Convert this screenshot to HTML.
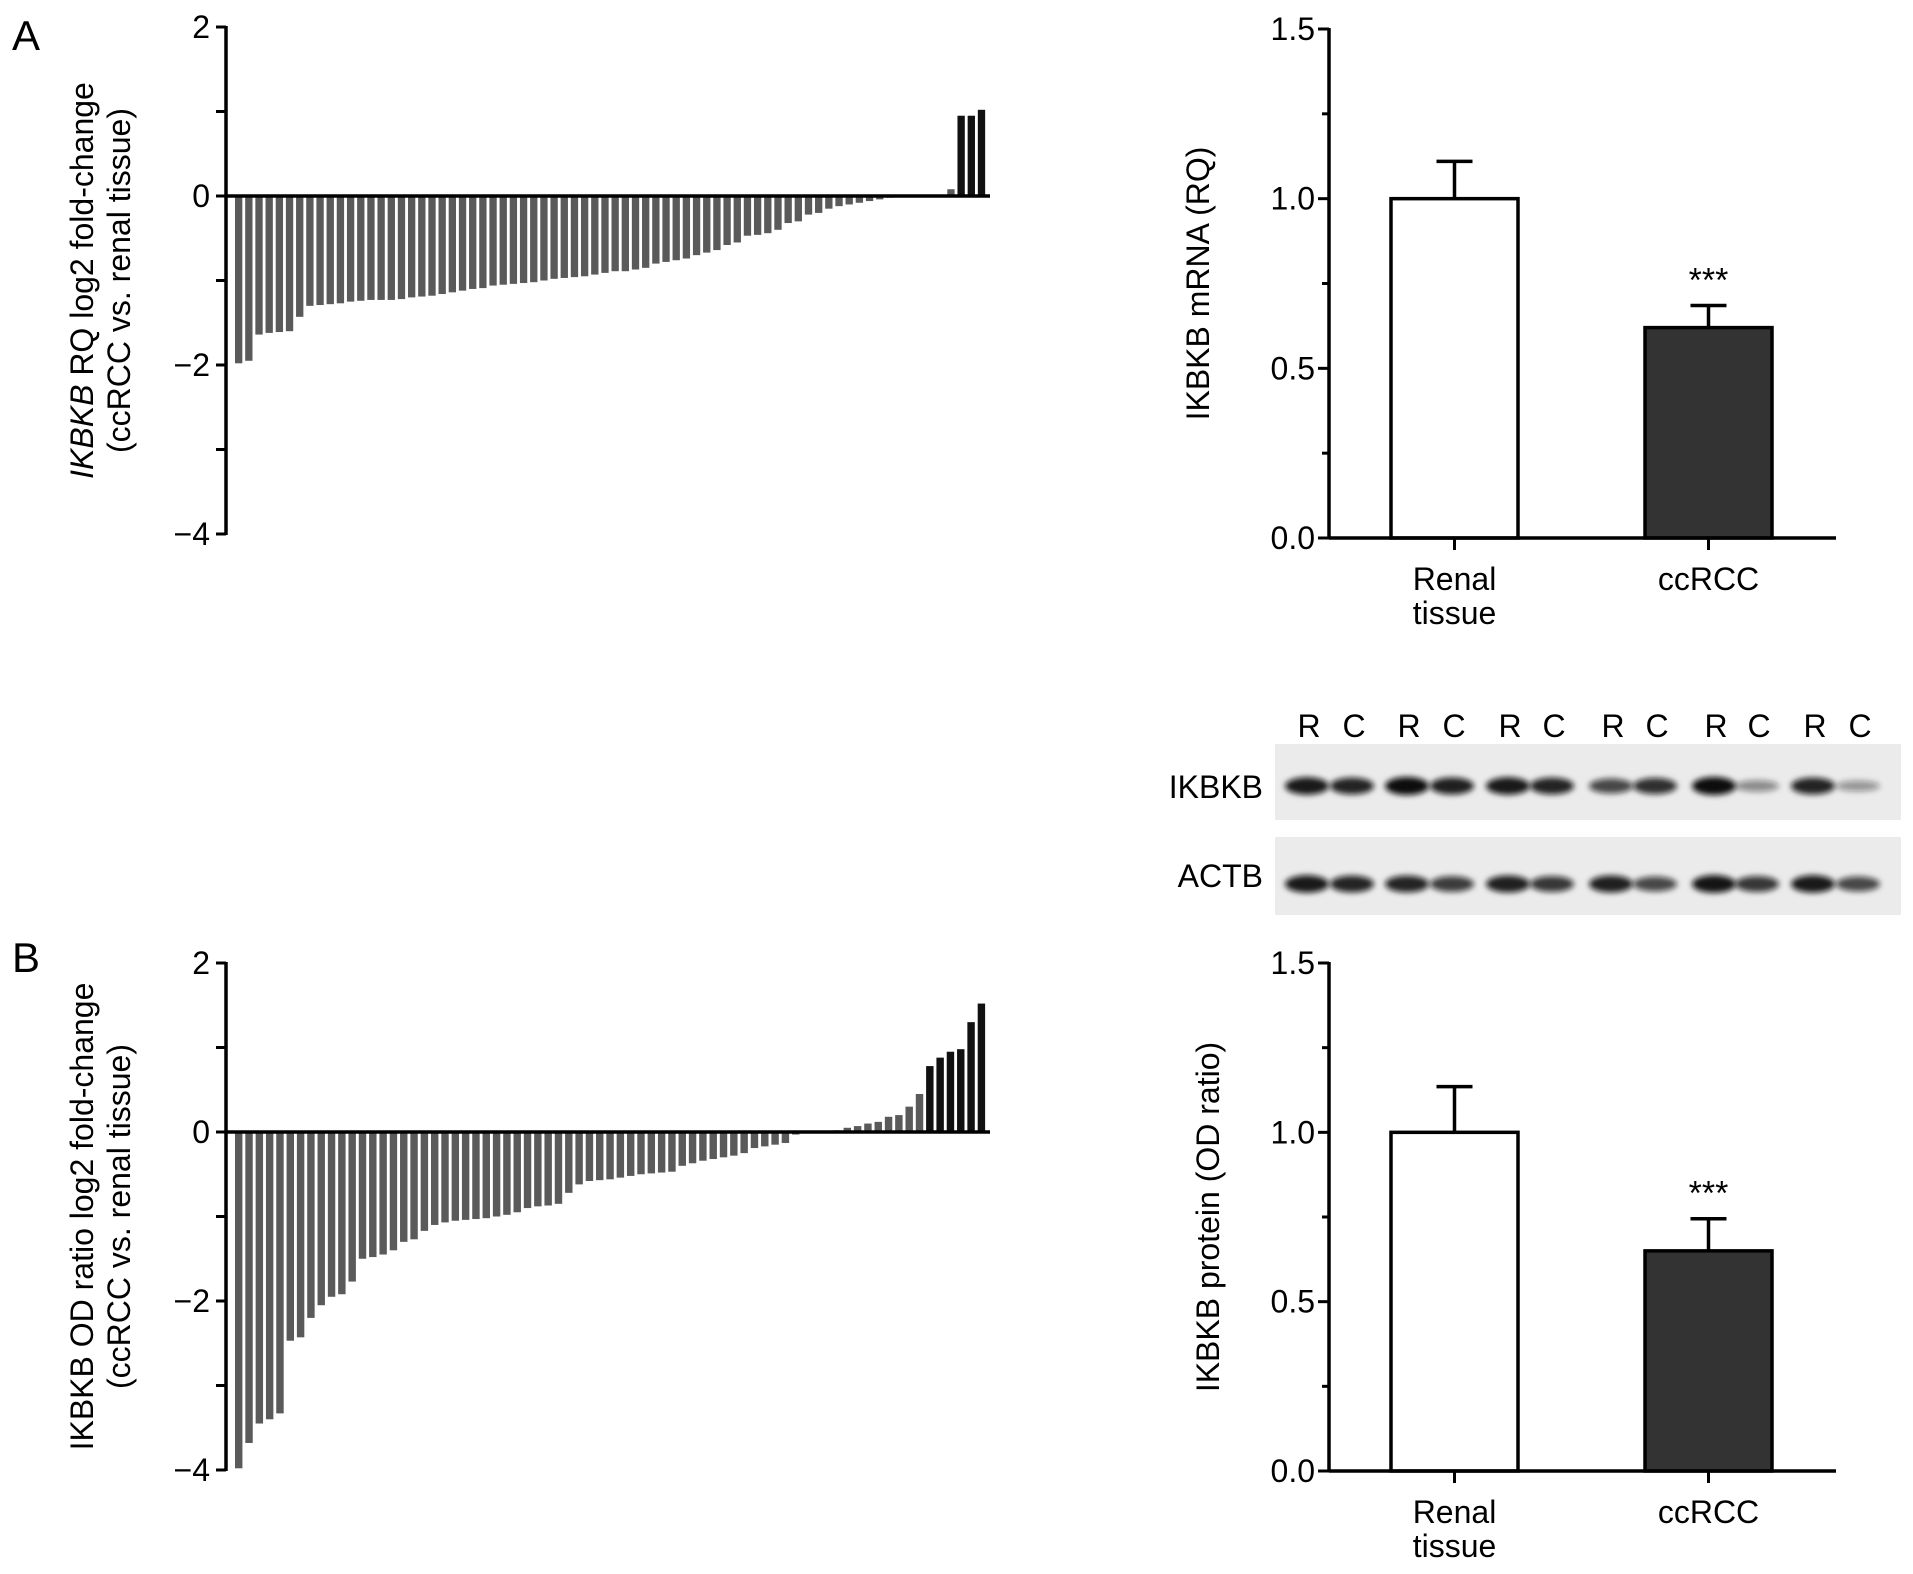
<!DOCTYPE html>
<html><head><meta charset="utf-8"><style>
html,body{margin:0;padding:0;background:#fff;}
svg{display:block;font-family:"Liberation Sans",Arial,sans-serif;}
</style></head><body>
<svg id="fig" width="1913" height="1574" viewBox="0 0 1913 1574">
<defs><filter id="blur" x="-30%" y="-60%" width="160%" height="220%"><feGaussianBlur stdDeviation="3"/></filter></defs>
<text x="12" y="50" font-size="42">A</text>
<text x="12" y="972" font-size="42">B</text>
<g id="chartA"></g>
<g id="chartB"></g>
<g id="chartC"></g>
<g id="chartD"></g>
<g id="blot"></g>
</svg>
<script>
const NS="http://www.w3.org/2000/svg";
const rnaValues=[-1.98,-1.95,-1.64,-1.62,-1.61,-1.6,-1.43,-1.3,-1.29,-1.28,-1.27,-1.25,-1.24,-1.23,-1.23,-1.23,-1.22,-1.2,-1.19,-1.18,-1.16,-1.14,-1.12,-1.1,-1.09,-1.06,-1.05,-1.04,-1.03,-1.02,-1.0,-0.98,-0.97,-0.96,-0.95,-0.93,-0.91,-0.89,-0.89,-0.87,-0.85,-0.8,-0.78,-0.76,-0.74,-0.7,-0.67,-0.64,-0.58,-0.55,-0.47,-0.46,-0.44,-0.4,-0.32,-0.3,-0.22,-0.2,-0.15,-0.12,-0.1,-0.08,-0.06,-0.04,-0.02,-0.01,0,0,0,0,0.08,0.95,0.95,1.02];
const rnaHighlight=[71,72,73];
const protValues=[-3.98,-3.68,-3.45,-3.4,-3.33,-2.47,-2.43,-2.2,-2.05,-1.95,-1.92,-1.77,-1.5,-1.48,-1.45,-1.4,-1.3,-1.27,-1.17,-1.1,-1.07,-1.05,-1.04,-1.03,-1.02,-1.0,-0.98,-0.95,-0.9,-0.88,-0.87,-0.85,-0.72,-0.62,-0.58,-0.57,-0.56,-0.54,-0.52,-0.5,-0.49,-0.48,-0.47,-0.4,-0.37,-0.34,-0.32,-0.3,-0.28,-0.25,-0.19,-0.17,-0.15,-0.13,-0.03,0,0,0,0.02,0.05,0.07,0.1,0.12,0.18,0.2,0.3,0.45,0.78,0.88,0.95,0.98,1.3,1.52];
const protHighlight=[67,68,69,70,71,72];
const waterTicks=[2,0,-2,-4];
const groupLabels=[["Renal","tissue"],["ccRCC"]];
const rnaMeans=[1.0,0.62];
const rnaErr=[0.11,0.065];
const protMeans=[1.0,0.65];
const protErr=[0.135,0.095];
const barTicks=["0.0","0.5","1.0","1.5"];
const laneLabels=["R","C","R","C","R","C","R","C","R","C","R","C"];
const ikbkbIntensity=[0.95,0.9,1,0.92,0.95,0.9,0.75,0.85,1,0.45,0.9,0.4];
const actbIntensity=[0.95,0.9,0.9,0.8,0.92,0.82,0.92,0.75,0.97,0.82,0.95,0.75];

function el(tag,attrs,parent,txt){const e=document.createElementNS(NS,tag);for(const k in attrs)e.setAttribute(k,attrs[k]);if(txt!==undefined)e.textContent=txt;parent.appendChild(e);return e;}
const FS=32;
function waterfall(g,vals,hl,y0px,y2,yn4,title1,title2,italicWord){
  const ax=226,x1=235,x2=988;
  const ys=v=>y0px-(v)*(y0px-y2)/2;
  const n=vals.length,pitch=(x2-x1)/n,bw=pitch*0.72;
  vals.forEach((v,i)=>{
    const top=Math.min(ys(v),ys(0)),h=Math.abs(ys(v)-ys(0));
    const r=el('rect',{x:x1+i*pitch,y:top,width:bw,height:Math.max(h,0.01),fill:hl.includes(i)?'#111':'#5a5a5a'},g);
    
    
  });
  el('line',{x1:ax,y1:ys(2)-1,x2:ax,y2:ys(-4)+1,stroke:'#000','stroke-width':3.5},g);
  el('line',{x1:ax,y1:ys(0),x2:x2+2,y2:ys(0),stroke:'#000','stroke-width':3.5},g);
  for(let t=2;t>=-4;t--){el('line',{x1:ax-10,y1:ys(t),x2:ax,y2:ys(t),stroke:'#000','stroke-width':3},g);}
  waterTicks.forEach(t=>{const tx=el('text',{x:ax-16,y:ys(t)+11,'font-size':FS,'text-anchor':'end'},g,t<0?'\u2212'+(-t):String(t));});
  const cy=(ys(2)+ys(-4))/2;
  const t1=el('text',{transform:`translate(93,${cy}) rotate(-90)`,'font-size':FS,'text-anchor':'middle'},g);
  
  if(italicWord){el('tspan',{'font-style':'italic'},t1,italicWord);el('tspan',{},t1,title1);}else t1.textContent=title1;
  const t2=el('text',{transform:`translate(130,${cy}) rotate(-90)`,'font-size':FS,'text-anchor':'middle'},g,title2);
  
}
waterfall(document.getElementById('chartA'),rnaValues,rnaHighlight,196,27,537," RQ log2 fold-change","(ccRCC vs. renal tissue)","IKBKB");
waterfall(document.getElementById('chartB'),protValues,protHighlight,1132,963,1471,"IKBKB OD ratio log2 fold-change","(ccRCC vs. renal tissue)",null);

function barChart(g,means,errs,top,bot,title,titleX){
  const ax=1329,xe=1836;
  const ys=v=>bot-(v/1.5)*(bot-top);
  const bx=[1391,1645],bw=127;
  means.forEach((m,i)=>{
    const cx=bx[i]+bw/2;
    el('line',{x1:cx,y1:ys(m),x2:cx,y2:ys(m+errs[i]),stroke:'#000','stroke-width':3.5},g);
    el('line',{x1:cx-18,y1:ys(m+errs[i]),x2:cx+18,y2:ys(m+errs[i]),stroke:'#000','stroke-width':3.5},g);
    const r=el('rect',{x:bx[i],y:ys(m),width:bw,height:ys(0)-ys(m),fill:i?'#333':'#fff',stroke:'#000','stroke-width':3.5},g);
    
    el('line',{x1:cx,y1:bot,x2:cx,y2:bot+12,stroke:'#000','stroke-width':3},g);
    groupLabels[i].forEach((s,j)=>{const t=el('text',{x:cx,y:bot+52+j*34,'font-size':FS,'text-anchor':'middle'},g,s);});
  });
  const st=el('text',{x:bx[1]+bw/2,y:ys(means[1]+errs[1])-14,'font-size':34,'text-anchor':'middle'},g,'***');
  
  el('line',{x1:ax,y1:top-1,x2:ax,y2:bot,stroke:'#000','stroke-width':3.5},g);
  el('line',{x1:ax,y1:bot,x2:xe,y2:bot,stroke:'#000','stroke-width':3.5},g);
  for(let k=0;k<=6;k++){const v=k*0.25;el('line',{x1:ax-(k%2?7:11),y1:ys(v),x2:ax,y2:ys(v),stroke:'#000','stroke-width':3},g);}
  barTicks.forEach(t=>{const tx=el('text',{x:ax-14,y:ys(parseFloat(t))+11,'font-size':FS,'text-anchor':'end'},g,t);});
  const tt=el('text',{transform:`translate(${titleX},${(top+bot)/2}) rotate(-90)`,'font-size':FS,'text-anchor':'middle'},g,title);
  
}
barChart(document.getElementById('chartC'),rnaMeans,rnaErr,29,538,"IKBKB mRNA (RQ)",1209);
barChart(document.getElementById('chartD'),protMeans,protErr,963,1471,"IKBKB protein (OD ratio)",1219);

(function(){
  const g=document.getElementById('blot');
  const lx=[1309,1354,1409,1454,1510,1554,1613,1657,1716,1759,1815,1860];
  el('rect',{x:1275,y:744,width:626,height:76,fill:'#ebebeb'},g);
  el('rect',{x:1275,y:837,width:626,height:78,fill:'#ebebeb'},g);
  laneLabels.forEach((s,i)=>{const t=el('text',{x:lx[i],y:737,'font-size':32,'text-anchor':'middle'},g,s);});
  ikbkbIntensity.forEach((v,i)=>{const b=el('ellipse',{cx:lx[i]-2,cy:786,rx:22,ry:3+6*v,fill:'#111','fill-opacity':v,filter:'url(#blur)'},g);});
  actbIntensity.forEach((v,i)=>{const b=el('ellipse',{cx:lx[i]-2,cy:884,rx:22,ry:3+6*v,fill:'#111','fill-opacity':v,filter:'url(#blur)'},g);});
  const a=el('text',{x:1263,y:798,'font-size':32,'text-anchor':'end'},g,'IKBKB');
  const b=el('text',{x:1263,y:887,'font-size':32,'text-anchor':'end'},g,'ACTB');
})();
</script>
</body></html>
